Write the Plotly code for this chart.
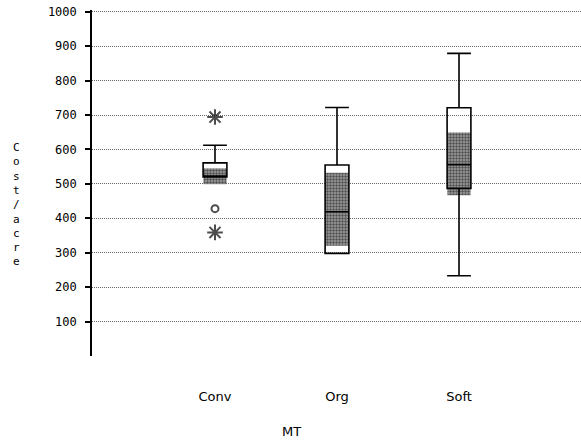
import plotly.graph_objects as go

categories = ["Conv", "Org", "Soft"]
q1 = [520, 298, 487]
median = [520, 419, 556]
q3 = [561, 555, 721]
lower_fence = [520, 298, 233]
upper_fence = [612, 722, 879]
ci_low = [499, 320, 467]
ci_high = [545, 532, 649]

outlier_cat = ["Conv", "Conv", "Conv"]
outlier_val = [694, 428, 359]
outlier_symbol = ["asterisk-open", "circle-open", "asterisk-open"]
outlier_size = [13, 7, 13]

y_ticks = [100, 200, 300, 400, 500, 600, 700, 800, 900, 1000]

# page body margin is removed (post_script below); plot area: left 92, top 10, bottom 356
W, H = 581, 441
plot_l = 92
plot_t = 10
plot_r = 0
plot_b = H - 356

fig = go.Figure()

fig.add_trace(go.Bar(
    x=categories,
    base=ci_low,
    y=[h - l for h, l in zip(ci_high, ci_low)],
    width=0.19,
    marker=dict(
        color="#6a6a6a",
        line=dict(width=0),
        pattern=dict(shape=".", fgcolor="#000000", bgcolor="#a0a0a0", size=3, solidity=0.5),
    ),
    showlegend=False,
    hoverinfo="skip",
))

fig.add_trace(go.Box(
    x=categories,
    q1=q1,
    median=median,
    q3=q3,
    lowerfence=lower_fence,
    upperfence=upper_fence,
    width=0.195,
    whiskerwidth=1,
    fillcolor="rgba(0,0,0,0)",
    line=dict(color="black", width=1.6),
    showlegend=False,
))

fig.add_trace(go.Scatter(
    x=outlier_cat,
    y=outlier_val,
    mode="markers",
    marker=dict(symbol=outlier_symbol, size=outlier_size, color="black",
                line=dict(color="black", width=2)),
    showlegend=False,
))

plot_w = W - plot_l - plot_r
# x range so categories land at 215, 337, 459 px with plot starting at 92
x_min = -(215 - 92) / 122
x_max = x_min + plot_w / 122

fig.update_layout(
    width=W,
    height=H,
    margin=dict(l=plot_l, r=plot_r, t=plot_t, b=plot_b, autoexpand=False),
    paper_bgcolor="white",
    plot_bgcolor="white",
    showlegend=False,
    font=dict(family="DejaVu Sans", color="black"),
    xaxis=dict(
        type="category",
        range=[x_min, x_max],
        automargin=False,
        showline=False,
        showgrid=False,
        zeroline=False,
        ticks="",
        tickfont=dict(family="DejaVu Sans", size=13, color="black"),
        ticklabelstandoff=31,
    ),
    yaxis=dict(
        range=[0, 1005],
        automargin=False,
        tickvals=y_ticks,
        ticktext=[str(v) for v in y_ticks],
        ticklabeloverflow="allow",
        showline=True,
        linecolor="black",
        linewidth=1.6,
        ticks="outside",
        ticklen=5,
        tickwidth=1.5,
        tickcolor="black",
        showgrid=True,
        gridcolor="#666666",
        gridwidth=1,
        griddash="1px,1px",
        zeroline=False,
        tickfont=dict(family="DejaVu Sans Mono", size=12, color="black"),
        ticklabelstandoff=6,
    ),
)

plot_h = H - plot_t - plot_b


def px_to_paper(xp, yp):
    return (xp - plot_l) / plot_w, 1 - (yp - plot_t) / plot_h


mx, my = px_to_paper(291, 431)
tx, ty = px_to_paper(16, 204)
fig.update_layout(annotations=[
    dict(text="MT", x=mx, y=my, xref="paper", yref="paper", xanchor="center", yanchor="middle",
         showarrow=False, font=dict(family="DejaVu Sans", size=13, color="black")),
    dict(text="C<br>o<br>s<br>t<br>/<br>a<br>c<br>r<br>e", x=tx, y=ty,
         xref="paper", yref="paper", xanchor="center", yanchor="middle",
         showarrow=False, font=dict(family="DejaVu Sans Mono", size=11, color="black")),
])

fig.write_html("out.html", config={"displayModeBar": False},
               post_script="document.body.style.margin='0';")
